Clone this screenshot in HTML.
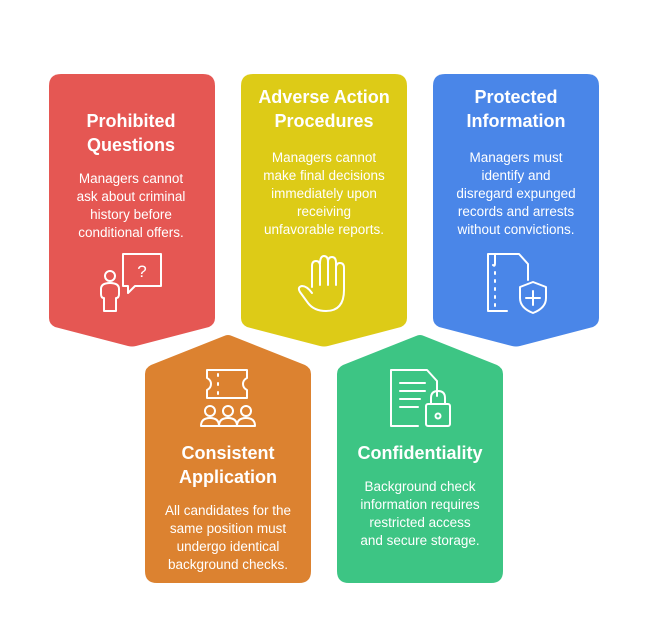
<!DOCTYPE html>
<html><head><meta charset="utf-8"><style>
html,body{margin:0;padding:0;background:#fff}
svg{display:block}
text{font-family:"Liberation Sans",Arial,sans-serif;fill:#fff;text-anchor:middle}
.t{font-weight:bold;font-size:18px}
.b{font-size:13.5px}
.i{fill:none;stroke:#fff;stroke-width:2;stroke-linecap:round;stroke-linejoin:round}
</style></head><body>
<svg width="648" height="633" viewBox="0 0 648 633">
<!-- top row pointing down -->
<path d="M61,74 H203 Q215,74 215,86 V318 Q215,324 209,327 L136,346 Q132,347 128,346 L55,327 Q49,324 49,318 V86 Q49,74 61,74Z" fill="#E55753"/>
<path d="M253,74 H395 Q407,74 407,86 V318 Q407,324 401,327 L328,346 Q324,347 320,346 L247,327 Q241,324 241,318 V86 Q241,74 253,74Z" fill="#DDCB17"/>
<path d="M445,74 H587 Q599,74 599,86 V318 Q599,324 593,327 L520,346 Q516,347 512,346 L439,327 Q433,324 433,318 V86 Q433,74 445,74Z" fill="#4A86E8"/>
<!-- bottom row pointing up -->
<path d="M157,583 H299 Q311,583 311,571 V374 Q311,368 305,365 L232,336 Q228,334 224,336 L151,365 Q145,368 145,374 V571 Q145,583 157,583Z" fill="#DC8230"/>
<path d="M349,583 H491 Q503,583 503,571 V374 Q503,368 497,365 L424,336 Q420,334 416,336 L343,365 Q337,368 337,374 V571 Q337,583 349,583Z" fill="#3DC584"/>

<text class="t" x="131" y="127">Prohibited</text>
<text class="t" x="131" y="151">Questions</text>
<text class="b" x="131" y="183">Managers cannot</text>
<text class="b" x="131" y="201">ask about criminal</text>
<text class="b" x="131" y="219">history before</text>
<text class="b" x="131" y="237">conditional offers.</text>

<text class="t" x="324" y="103">Adverse Action</text>
<text class="t" x="324" y="127">Procedures</text>
<text class="b" x="324" y="162">Managers cannot</text>
<text class="b" x="324" y="180">make final decisions</text>
<text class="b" x="324" y="198">immediately upon</text>
<text class="b" x="324" y="216">receiving</text>
<text class="b" x="324" y="234">unfavorable reports.</text>

<text class="t" x="516" y="103">Protected</text>
<text class="t" x="516" y="127">Information</text>
<text class="b" x="516" y="162">Managers must</text>
<text class="b" x="516" y="180">identify and</text>
<text class="b" x="516" y="198">disregard expunged</text>
<text class="b" x="516" y="216">records and arrests</text>
<text class="b" x="516" y="234">without convictions.</text>

<text class="t" x="228" y="459">Consistent</text>
<text class="t" x="228" y="483">Application</text>
<text class="b" x="228" y="515">All candidates for the</text>
<text class="b" x="228" y="533">same position must</text>
<text class="b" x="228" y="551">undergo identical</text>
<text class="b" x="228" y="569">background checks.</text>

<text class="t" x="420" y="459">Confidentiality</text>
<text class="b" x="420" y="491">Background check</text>
<text class="b" x="420" y="509">information requires</text>
<text class="b" x="420" y="527">restricted access</text>
<text class="b" x="420" y="545">and secure storage.</text>

<!-- icons -->
<g class="i">
<circle cx="110" cy="276" r="5"/>
<path d="M104,305 V298 Q101,298 101,294 V289 Q101,283 110,283 Q119,283 119,289 V294 Q119,298 116,298 V311 H104 V305"/>
<path d="M123,254 H161 V286 H135 L128,293 V286 H123Z"/>
<text x="142" y="277" style="font-size:17px;stroke:none;fill:#fff">?</text>
<path d="M312,287 V266 Q312,261 316,261 Q320,261 320,266 V285 M320,264 Q320,256 324,256 Q328,256 328,262 V285 M328,262 Q328,257 332,257 Q336,257 336,263 V285 M336,268 Q336,263 340,263 Q344,263 344,268 V290 Q344,311 326,311 Q314,311 308,303 L300,292 Q297,287 302,286 Q307,286 312,293"/>
<path d="M488,254 H519 L528,264 V280 M507,311 H488 V254"/>
<path d="M495,254 V263 Q495,267 493,265 M495,272 V274 M495,280 V282 M495,288 V290 M495,296 V298 M495,304 V306"/>
<path d="M533,282 L546,287 V298 Q546,308 533,313 Q520,308 520,298 V287Z M533,291 V305 M526,298 H540"/>
<path d="M207,370 H247 V378 Q243,380 243,384 Q243,388 247,390 V398 H207 V390 Q211,388 211,384 Q211,380 207,378Z M218,374 V376 M218,383 V385 M218,392 V394"/>
<circle cx="210" cy="411" r="5"/><circle cx="228" cy="411" r="5"/><circle cx="246" cy="411" r="5"/>
<path d="M201,426 Q201,418 210,418 Q219,418 219,426Z M219,426 Q219,418 228,418 Q237,418 237,426Z M237,426 Q237,418 246,418 Q255,418 255,426Z"/>
<path d="M418,426 H391 V370 H427 L437,381 V396"/>
<path d="M400,383 H425 M400,391 H425 M400,399 H420 M400,407 H418"/>
<rect x="426" y="404" width="24" height="22" rx="2"/>
<path d="M431,404 V398 Q431,391 438,391 Q445,391 445,398 V404"/>
<circle cx="438" cy="416" r="2.5"/>
</g>
</svg>
</body></html>
